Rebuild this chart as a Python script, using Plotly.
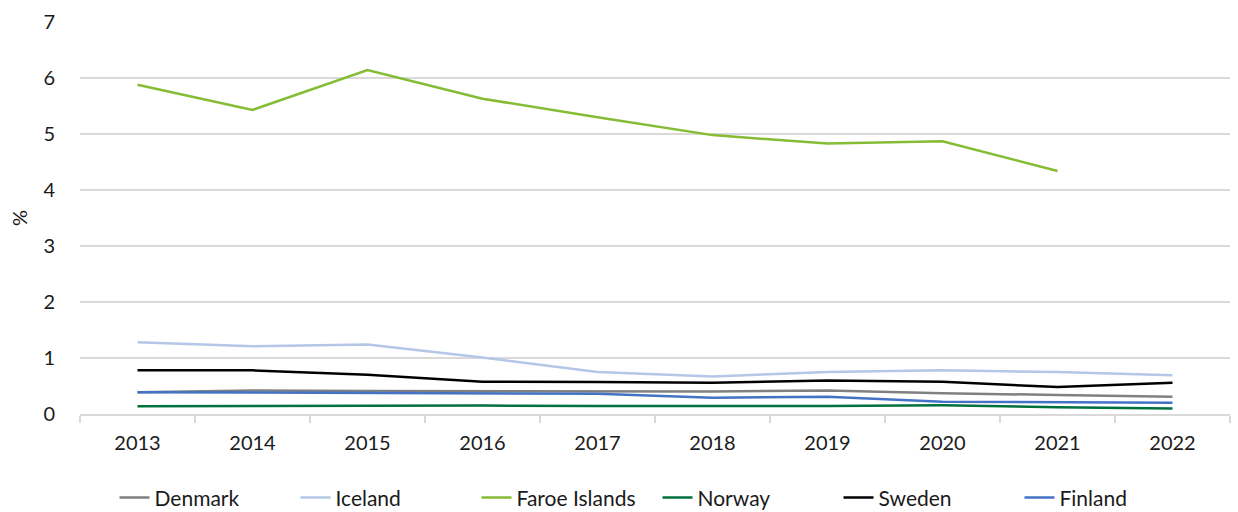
import plotly.graph_objects as go

years = ["2013", "2014", "2015", "2016", "2017", "2018", "2019", "2020", "2021", "2022"]

denmark = [0.39, 0.42, 0.41, 0.41, 0.41, 0.40, 0.42, 0.37, 0.34, 0.31]
iceland = [1.28, 1.21, 1.24, 1.01, 0.75, 0.67, 0.75, 0.78, 0.75, 0.69]
faroe = [5.88, 5.43, 6.14, 5.63, 5.30, 4.98, 4.83, 4.87, 4.34, None]
norway = [0.14, 0.145, 0.15, 0.15, 0.145, 0.14, 0.145, 0.155, 0.12, 0.10]
sweden = [0.78, 0.78, 0.70, 0.575, 0.57, 0.56, 0.60, 0.575, 0.48, 0.56]
finland = [0.39, 0.38, 0.37, 0.365, 0.36, 0.29, 0.31, 0.22, 0.215, 0.20]

series = [
    ("Denmark", denmark, "#808080"),
    ("Iceland", iceland, "#b4c7e7"),
    ("Faroe Islands", faroe, "#84bc34"),
    ("Norway", norway, "#00703c"),
    ("Sweden", sweden, "#000000"),
    ("Finland", finland, "#4472c4"),
]

fig = go.Figure()
for name, vals, col in series:
    fig.add_trace(go.Scatter(x=years, y=vals, name=name, mode="lines",
                             line=dict(color=col, width=2.5)))

font = "Lato, 'Open Sans', sans-serif"

fig.update_layout(
    width=1238, height=512,
    margin=dict(l=80, r=8, t=22, b=98, autoexpand=False),
    plot_bgcolor="white", paper_bgcolor="white",
    font=dict(family=font, size=20, color="#1a1a1a"),
    legend=dict(orientation="h", x=0.03, xanchor="left", y=-0.214, yanchor="middle",
                font=dict(size=21), entrywidth=136, entrywidthmode="pixels",
                tracegroupgap=0),
    showlegend=True,
)

fig.update_xaxes(type="category", range=[-0.5, 9.5], showgrid=False, showline=True,
                 linecolor="#d9d9d9", linewidth=1.5, ticks="outside", tickson="boundaries",
                 ticklen=7, tickcolor="#d9d9d9", tickwidth=1.5, tickfont=dict(size=20),
                 ticklabelstandoff=10, automargin=False)

fig.update_yaxes(range=[0, 7], dtick=1, showgrid=True, gridcolor="#d9d9d9", gridwidth=1.5,
                 zeroline=False, tickfont=dict(size=20), ticklabelstandoff=24,
                 title=dict(text="%", font=dict(size=20), standoff=10), automargin=False)

# la página trae margen de 8px en el body; lo quitamos
fig.write_html("out.html", config={"displayModeBar": False},
               post_script="document.body.style.margin='0px';document.body.style.overflow='hidden';")
